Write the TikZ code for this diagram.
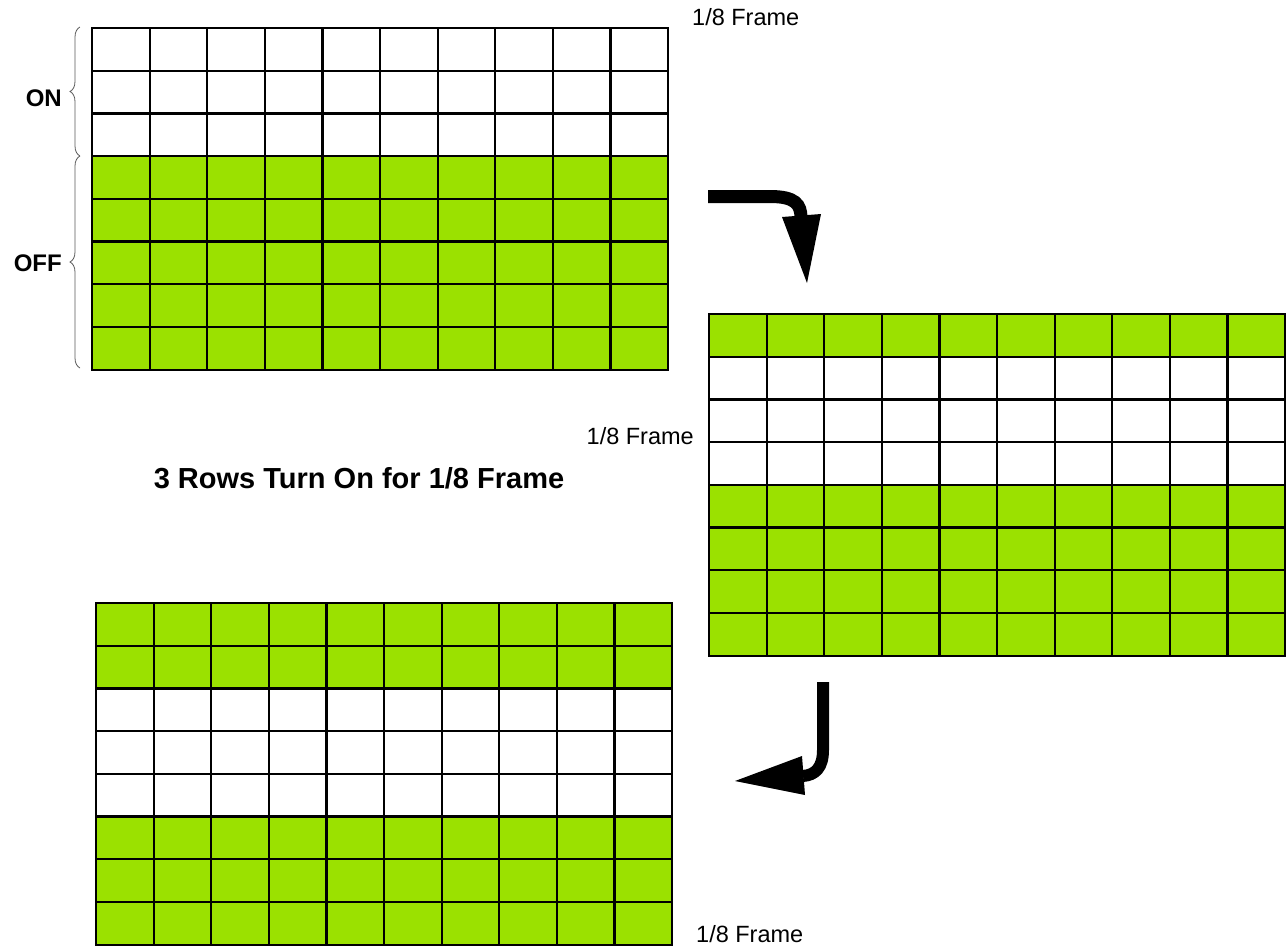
\documentclass[tikz,border=0pt]{standalone}
\usepackage{fontspec}
\setmainfont{Liberation Sans}
\usetikzlibrary{decorations.pathreplacing}
\definecolor{offgreen}{RGB}{155,225,0}
\newcommand\drawpanel[3]{%
  \foreach \r in {#3}
    \fill[offgreen] ({#1},{#2+\r*42.7}) rectangle ({#1+576},{#2+(\r+1)*42.7});
  \foreach \i in {1,...,9}
    \draw[gridline] ({#1+\i*57.6},{#2}) -- ({#1+\i*57.6},{#2+341.6});
  \foreach \j in {1,...,7}
    \draw[gridline] ({#1},{#2+\j*42.7}) -- ({#1+576},{#2+\j*42.7});
  \draw[gridline] ({#1},{#2}) rectangle ({#1+576},{#2+341.6});
}
\begin{document}
\begin{tikzpicture}[x=1pt,y=-1pt,
  gridline/.style={line width=2.2pt,black,line join=miter},
  lbl/.style={font=\fontsize{23.5}{27}\selectfont,inner sep=0pt},
  boldlbl/.style={font=\fontsize{24}{28}\selectfont\bfseries,inner sep=0pt},
  titlelbl/.style={font=\fontsize{29}{33}\selectfont\bfseries,inner sep=0pt},
  bracestyle/.style={draw=gray!70!black,line width=0.8pt,decorate,decoration={brace,amplitude=10pt}},
  bigarrow/.style={line width=13pt,black}]
\useasboundingbox (0,0) rectangle (1288,951);
% panels
\drawpanel{92}{28}{3,4,5,6,7}
\drawpanel{709}{314}{0,4,5,6,7}
\drawpanel{96}{603}{0,1,5,6,7}
% labels
\node[lbl,anchor=west] (f1) at (692,17) {1/8 Frame};
\node[lbl,anchor=east] (f2) at (694,436) {1/8 Frame};
\node[lbl,anchor=west] (f3) at (696,934) {1/8 Frame};
\node[titlelbl] (title) at (359,478) {3 Rows Turn On for 1/8 Frame};
\node[boldlbl,anchor=east] (on) at (62,98) {ON};
\node[boldlbl,anchor=east] (off) at (62,263) {OFF};
% braces
\coordinate (b0) at (80,368);
\coordinate (b1) at (80,156);
\coordinate (b2) at (80,27);
\draw[bracestyle] (b0) -- (b1);
\draw[bracestyle] (b1) -- (b2);
% arrow 1
\coordinate (a1s) at (708,196.5);
\coordinate (a1m) at (801,218);
\coordinate (a1l) at (782,217);
\coordinate (a1r) at (821,214);
\coordinate (a1t) at (807,283);
\draw[bigarrow] (a1s) -- (770,196.5) .. controls (795,196.5) and (801,204) .. (a1m);
\fill (a1l) -- (a1r) -- (a1t) -- cycle;
% arrow 2
\coordinate (a2s) at (823,682);
\coordinate (a2m) at (803,776);
\coordinate (a2u) at (802,756);
\coordinate (a2d) at (805,795);
\coordinate (a2t) at (735,781);
\draw[bigarrow,line width=12pt] (a2s) -- (823,750) .. controls (823,768) and (815,775) .. (a2m);
\fill (a2u) -- (a2d) -- (a2t) -- cycle;
\end{tikzpicture}
\end{document}
